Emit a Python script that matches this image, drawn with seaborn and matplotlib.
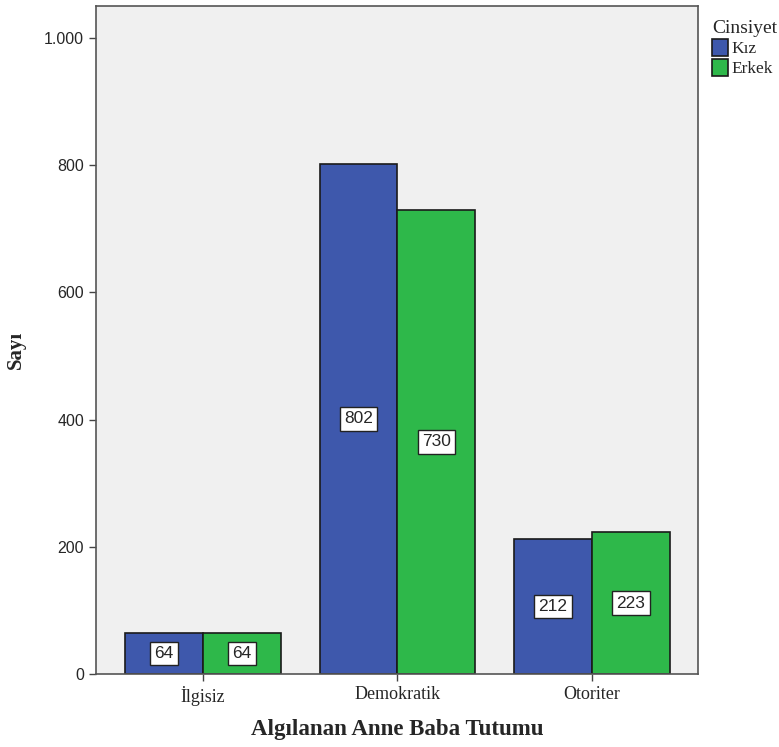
import matplotlib
matplotlib.use("Agg")
import matplotlib.pyplot as plt
import numpy as np
import pandas as pd
import seaborn as sns
from matplotlib.ticker import FuncFormatter

# data
categories = ["İlgisiz", "Demokratik", "Otoriter"]
kiz = [64, 802, 212]
erkek = [64, 730, 223]
genders = ["Kız", "Erkek"]
colors = ["#3e58ac", "#2eb84a"]

df = pd.DataFrame(
    {
        "tutum": categories * 2,
        "cinsiyet": [genders[0]] * 3 + [genders[1]] * 3,
        "sayi": kiz + erkek,
    }
)

sns.set_style("white")
serif = ["Liberation Serif", "DejaVu Serif"]
sans = ["Liberation Sans", "DejaVu Sans"]

fig = plt.figure(figsize=(7.79, 7.47), dpi=100)
ax = fig.add_axes([0.1232, 0.0977, 0.7728, 0.8943])
ax.set_facecolor("#f0f0f0")

sns.barplot(
    data=df,
    x="tutum",
    y="sayi",
    hue="cinsiyet",
    order=categories,
    hue_order=genders,
    palette=colors,
    width=0.8,
    edgecolor="#1a1a1a",
    linewidth=1.2,
    saturation=1,
    ax=ax,
)

for cont in ax.containers:
    ax.bar_label(
        cont,
        label_type="center",
        fmt="%d",
        fontsize=12.5,
        family=sans,
        bbox=dict(facecolor="white", edgecolor="#222222", boxstyle="square,pad=0.25", lw=1),
    )

ax.set_xlim(-0.55, 2.545)
ax.set_ylim(0, 1050)
ax.set_yticks([0, 200, 400, 600, 800, 1000])
ax.yaxis.set_major_formatter(
    FuncFormatter(lambda v, p: f"{int(v):,}".replace(",", "."))
)
for lbl in ax.get_yticklabels():
    lbl.set_family(sans)
    lbl.set_fontsize(11.5)
for lbl in ax.get_xticklabels():
    lbl.set_family(serif)
    lbl.set_fontsize(13)

ax.tick_params(axis="both", direction="out", length=5, width=1, color="#444444", bottom=True, left=True)
for s in ax.spines.values():
    s.set_color("#555555")
    s.set_linewidth(1.2)

ax.set_xlabel("Algılanan Anne Baba Tutumu", family=serif, fontsize=16.5, fontweight="bold")
ax.xaxis.set_label_coords(0.5, -0.068)
ax.set_ylabel("Sayı", family=serif, fontsize=15, fontweight="bold")
ax.yaxis.set_label_coords(-0.117, 0.485)

leg = ax.legend(
    title="Cinsiyet",
    loc="upper left",
    bbox_to_anchor=(1.0, 1.0),
    frameon=False,
    prop={"family": serif, "size": 12.5},
    handlelength=0.95,
    handleheight=1.15,
    handletextpad=0.2,
    labelspacing=0.1,
    borderaxespad=0.4,
)
leg.get_title().set_family(serif)
leg.get_title().set_fontsize(14)
leg._legend_box.align = "left"

fig.savefig("out.png", dpi=100)
